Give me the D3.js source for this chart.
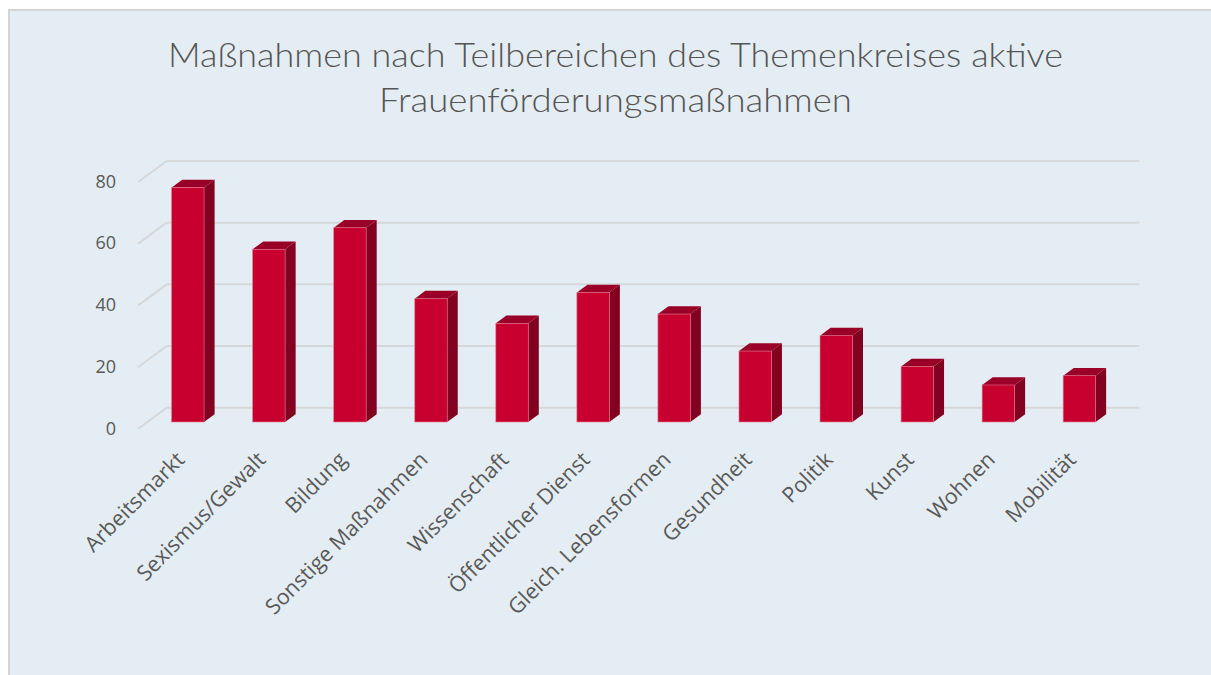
<!DOCTYPE html>
<html>
<head>
<meta charset="utf-8">
<script src="https://cdn.jsdelivr.net/npm/d3@7"></script>
<style>
  html, body { margin: 0; padding: 0; background: #ffffff; }
  svg { display: block; }
</style>
</head>
<body>
<svg id="chart" width="1211" height="675"></svg>
<script>
const titleLines = ["Maßnahmen nach Teilbereichen des Themenkreises aktive", "Frauenförderungsmaßnahmen"];
const categories = ["Arbeitsmarkt", "Sexismus/Gewalt", "Bildung", "Sonstige Maßnahmen", "Wissenschaft",
  "Öffentlicher Dienst", "Gleich. Lebensformen", "Gesundheit", "Politik", "Kunst", "Wohnen", "Mobilität"];
const values = [76, 56, 63, 40, 32, 42, 35, 23, 28, 18, 12, 15];
const yTicks = [0, 20, 40, 60, 80];
const yTickLabels = ["0", "20", "40", "60", "80"];

const svg = d3.select("#chart");

// panel
svg.append("rect").attr("x", 9).attr("y", 10).attr("width", 1210).attr("height", 670)
  .attr("fill", "#e4edf3").attr("stroke", "#d4d4d4").attr("stroke-width", 2);

// title
const title = svg.append("g");
[[titleLines[0], 66.7, 895], [titleLines[1], 111.7, 473]].forEach(([t, yy, len]) => {
  title.append("text").attr("x", 615.5).attr("y", yy).attr("text-anchor", "middle")
    .attr("font-family", "Lato, 'Open Sans', sans-serif").attr("font-weight", 300)
    .attr("font-size", 34).attr("fill", "#555555")
    .attr("textLength", len).attr("lengthAdjust", "spacingAndGlyphs")
    .text(t);
});

// 3D geometry: back wall plane, depth vector toward viewer
const backLeft = 166.7, backRight = 1139.3;
const depth = { x: -28.5, y: 21 };
const fFront = 0.68, fBack = 0.31;

const x = d3.scaleBand().domain(categories).range([backLeft, backRight]).padding(0);
const y = d3.scaleLinear().domain([0, 80]).range([407.7, 161]);

// gridlines (back wall + floor/side diagonals)
const grid = svg.append("g").attr("stroke", "#d5d7d9").attr("stroke-width", 2).attr("fill", "none");
yTicks.forEach(v => {
  grid.append("line").attr("x1", backLeft).attr("x2", backRight).attr("y1", y(v)).attr("y2", y(v));
  grid.append("line").attr("x1", backLeft).attr("y1", y(v))
    .attr("x2", backLeft + depth.x).attr("y2", y(v) + depth.y);
});

// y tick labels
const yAxis = svg.append("g");
yTicks.forEach((v, i) => {
  yAxis.append("text").attr("x", 116).attr("y", y(v) + depth.y + 1)
    .attr("text-anchor", "end").attr("dominant-baseline", "middle")
    .attr("font-family", "'Open Sans', sans-serif").attr("font-size", 18)
    .attr("fill", "#595959").text(yTickLabels[i]);
});

// bars
const barW = x.bandwidth() * 0.4;
const ddx = depth.x * (fBack - fFront), ddy = depth.y * (fBack - fFront);
const bars = svg.append("g");
categories.forEach((c, i) => {
  const cx = x(c) + x.bandwidth() / 2 + depth.x * fFront;
  const x0 = cx - barW / 2, x1 = cx + barW / 2;
  const yb = y(0) + depth.y * fFront;
  const yt = y(values[i]) + depth.y * fFront;
  const g = bars.append("g");
  g.append("path").attr("d", `M${x1},${yt} L${x1 + ddx},${yt + ddy} L${x1 + ddx},${yb + ddy} L${x1},${yb} Z`)
    .attr("fill", "#820020");
  g.append("path").attr("d", `M${x0},${yt} L${x0 + ddx},${yt + ddy} L${x1 + ddx},${yt + ddy} L${x1},${yt} Z`)
    .attr("fill", "#9a0027");
  g.append("rect").attr("x", x0).attr("y", yt).attr("width", barW).attr("height", yb - yt)
    .attr("fill", "#c8002f").attr("stroke", "#e2728c").attr("stroke-width", 0.6);
});

// x labels
const xLabels = svg.append("g");
categories.forEach(c => {
  const cx = x(c) + x.bandwidth() / 2 + depth.x * fFront;
  xLabels.append("text")
    .attr("transform", `translate(${cx - 2},${461}) rotate(-45)`)
    .attr("text-anchor", "end")
    .attr("font-family", "'Open Sans', sans-serif").attr("font-size", 21.5)
    .attr("fill", "#595959").text(c);
});
</script>
</body>
</html>
